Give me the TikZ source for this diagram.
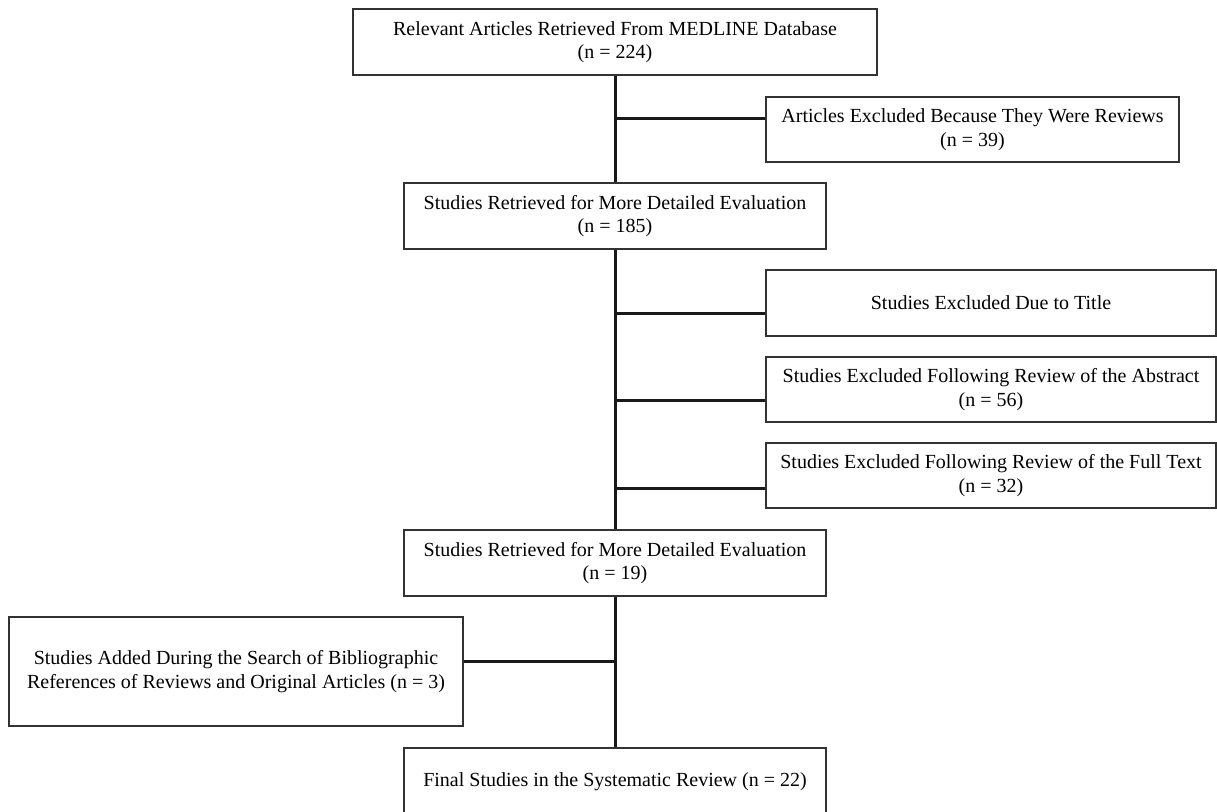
\documentclass[tikz,border=0pt]{standalone}
\usepackage{fontspec}
\setmainfont{Liberation Serif}

\tikzset{
  box/.style={draw=black!80, line width=1.3pt, align=center, inner sep=0pt,
    font=\fontsize{20}{23.5}\selectfont},
  mainbox/.style={box, minimum width=422pt, minimum height=66pt},
  sidebox/.style={box, minimum width=450pt, minimum height=65pt},
  link/.style={line width=3pt, black!90}
}

\begin{document}
\begin{tikzpicture}[x=1pt, y=-1pt]
\useasboundingbox ( 0, 0 ) rectangle ( 1217, 811 );

% Main column
\node [box, minimum width=524pt, minimum height=66pt] (medline) at ( 615, 42 )
  {Relevant Articles Retrieved From MEDLINE Database\\(n = 224)};
\node [mainbox] (detailed) at ( 615, 216 )
  {Studies Retrieved for More Detailed Evaluation\\(n = 185)};
\node [mainbox] (detailedb) at ( 615, 563 )
  {Studies Retrieved for More Detailed Evaluation\\(n = 19)};
\node [mainbox, minimum height=68pt] (final) at ( 615, 782 )
  {Final Studies in the Systematic Review (n = 22)};

% Exclusions
\node [box, minimum width=413pt, minimum height=65pt] (reviews) at ( 972.5, 129.5 )
  {Articles Excluded Because They Were Reviews\\(n = 39)};
\node [sidebox, minimum height=66pt] (title) at ( 991, 303 )
  {Studies Excluded Due to Title};
\node [sidebox] (abstract) at ( 991, 389.5 )
  {Studies Excluded Following Review of the Abstract\\(n = 56)};
\node [sidebox] (fulltext) at ( 991, 475.5 )
  {Studies Excluded Following Review of the Full Text\\(n = 32)};

% Added studies
\node [box, minimum width=454pt, minimum height=109pt] (added) at ( 236, 671.5 )
  {Studies Added During the Search of Bibliographic\\References of Reviews and Original Articles (n = 3)};

% Spine
\draw [link] (medline) -- (detailed);
\draw [link] (detailed) -- (detailedb);
\draw [link] (detailedb) -- (final);

% Branches
\draw [link] ([yshift=11.5pt]reviews.west) -- ([yshift=11.5pt]reviews.west -| medline.south);
\draw [link] ([yshift=-10pt]title.west) -- ([yshift=-10pt]title.west -| detailed.south);
\draw [link] ([yshift=-10.5pt]abstract.west) -- ([yshift=-10.5pt]abstract.west -| detailed.south);
\draw [link] ([yshift=-12.5pt]fulltext.west) -- ([yshift=-12.5pt]fulltext.west -| detailed.south);
\draw [link] ([yshift=10.5pt]added.east) -- ([yshift=10.5pt]added.east -| detailedb.south);

\end{tikzpicture}
\end{document}
